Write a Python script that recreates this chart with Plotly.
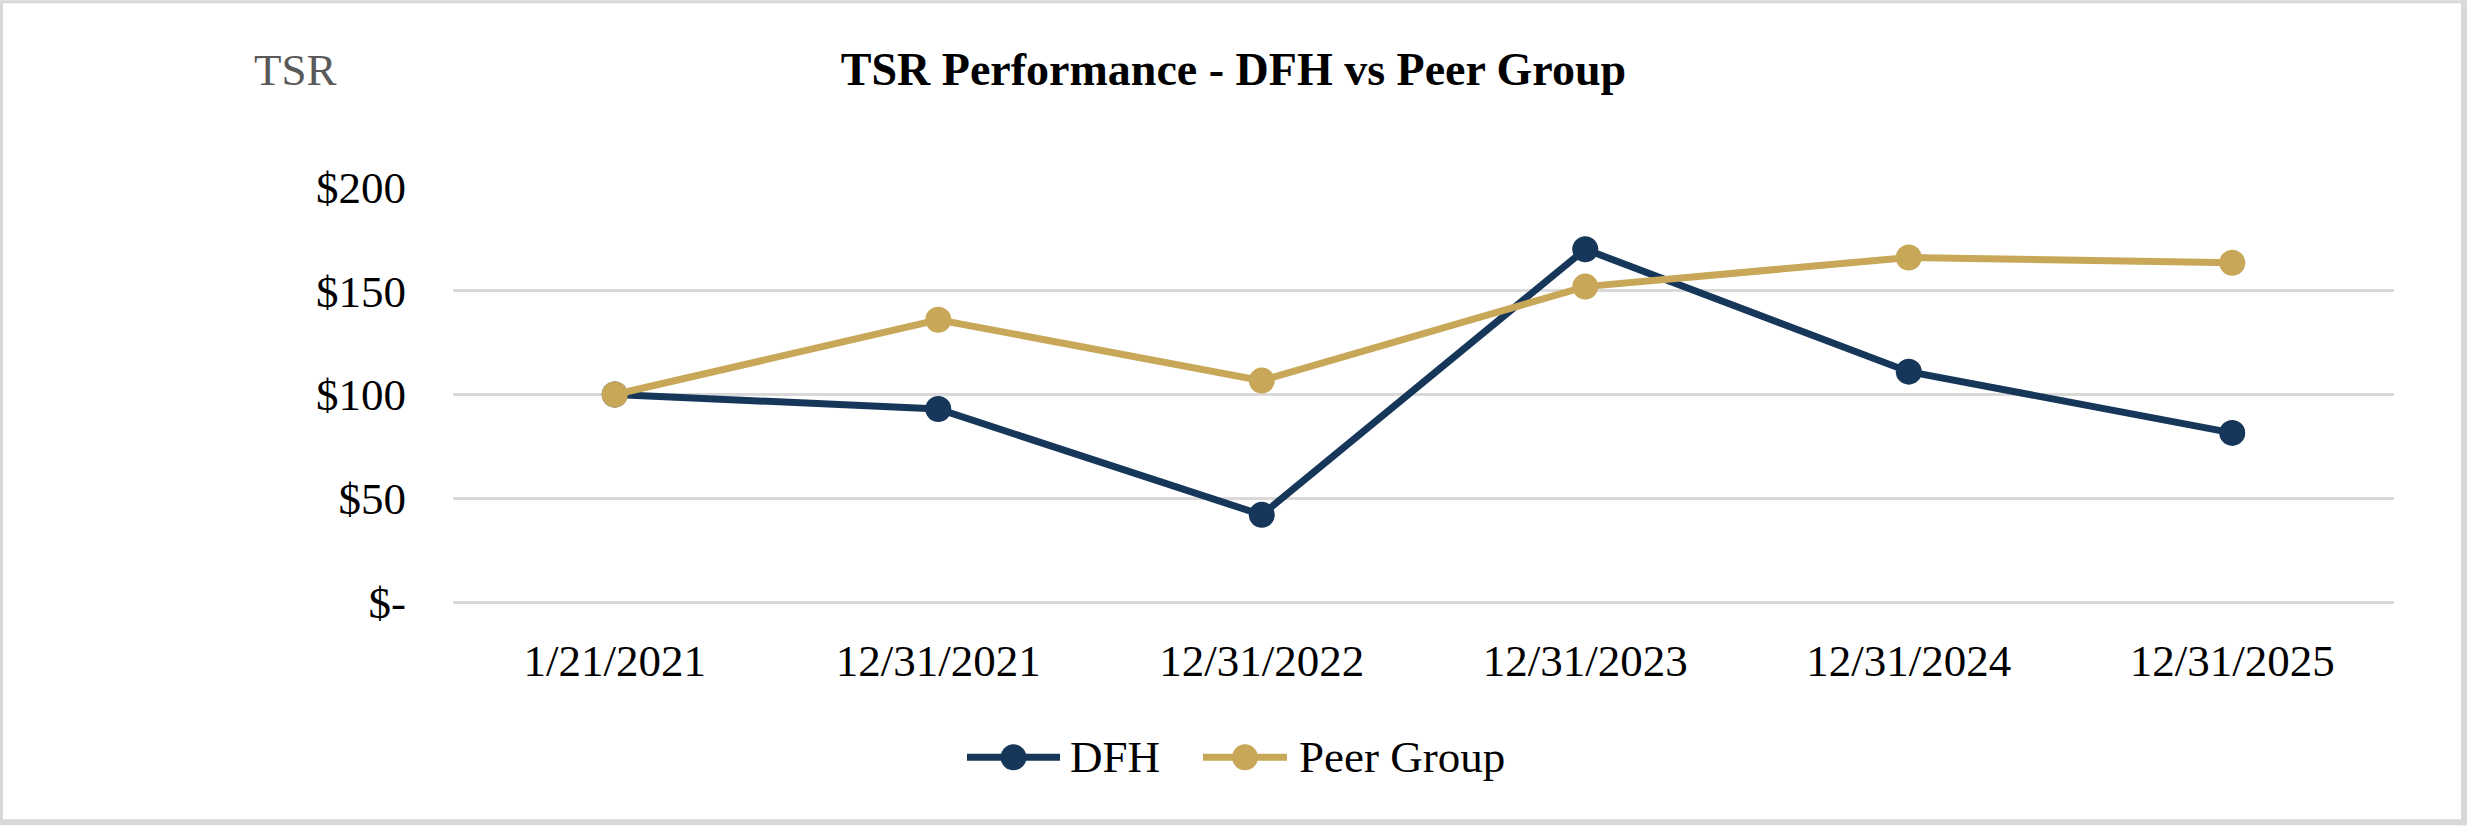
import plotly.graph_objects as go

# ---- data ----
categories = ["1/21/2021", "12/31/2021", "12/31/2022", "12/31/2023", "12/31/2024", "12/31/2025"]
dfh_values = [100, 93, 42, 170, 111, 81.5]
peer_values = [100, 136, 106.7, 152, 166, 163.5]
y_tick_values = [0, 50, 100, 150, 200]
y_tick_labels = ["$-", "$50", "$100", "$150", "$200"]
series_names = ["DFH", "Peer Group"]

# ---- layout geometry (pixels) ----
W, H = 2467, 826
L, R, T, B = 453, 2467 - 2394, 187, 826 - 602.5
PW, PH = W - L - R, H - T - B

def px_x(x):
    return (x - L) / PW

def px_y(y):
    return (H - B - y) / PH

FONT = "Liberation Serif"
NAVY = "#16375A"
GOLD = "#C8A858"
GRID = "#D9D9D9"
colors = [NAVY, GOLD]
LINE_W = 7
MARKER = 26

fig = go.Figure()
for name, vals, col in zip(series_names, [dfh_values, peer_values], colors):
    fig.add_trace(go.Scatter(
        x=categories, y=vals, name=name, mode="lines+markers",
        line=dict(color=col, width=LINE_W), marker=dict(color=col, size=MARKER),
        showlegend=False,
    ))

fig.update_layout(
    width=W, height=H,
    margin=dict(l=L, r=R, t=T, b=B, autoexpand=False),
    paper_bgcolor="white", plot_bgcolor="white",
    font=dict(family=FONT, size=45, color="black"),
    title=dict(
        text="<b>TSR Performance - DFH vs Peer Group</b>",
        x=0.5, xref="container", xanchor="center",
        y=1 - 69 / H, yref="container", yanchor="middle",
        font=dict(family=FONT, size=46, color="black"),
    ),
    xaxis=dict(
        type="category", range=[-0.5, 5.5],
        showgrid=False, zeroline=False, showline=False, ticks="",
        tickfont=dict(family=FONT, size=45, color="black"),
        ticklabelstandoff=28,
    ),
    yaxis=dict(
        range=[0, 200], tickvals=y_tick_values, ticktext=y_tick_labels,
        showgrid=True, gridcolor=GRID, gridwidth=3,
        zeroline=True, zerolinecolor=GRID, zerolinewidth=3,
        showline=False, ticks="",
        tickfont=dict(family=FONT, size=45, color="black"),
        ticklabelstandoff=46,
    ),
    showlegend=False,
)

fig.add_annotation(
    text="TSR", xref="paper", yref="paper",
    x=px_x(252), y=px_y(70), xanchor="left", yanchor="middle",
    showarrow=False, font=dict(family=FONT, size=45, color="#595959"),
)

# ---- custom legend (long line symbols like the original) ----
legend_y = 758
legend_items = [  # (line start, line end, text start) in px
    (967, 1060, 1068),
    (1203, 1287, 1297),
]
for (x0, x1, xt), name, col in zip(legend_items, series_names, colors):
    fig.add_shape(type="line", xref="paper", yref="paper",
                  x0=px_x(x0), x1=px_x(x1), y0=px_y(legend_y), y1=px_y(legend_y),
                  line=dict(color=col, width=LINE_W))
    cx = (x0 + x1) / 2
    r = MARKER / 2
    fig.add_shape(type="circle", xref="paper", yref="paper",
                  x0=px_x(cx - r), x1=px_x(cx + r),
                  y0=px_y(legend_y + r), y1=px_y(legend_y - r),
                  line=dict(width=0), fillcolor=col)
    fig.add_annotation(text=name, xref="paper", yref="paper",
                       x=px_x(xt), y=px_y(legend_y), xanchor="left", yanchor="middle",
                       showarrow=False, font=dict(family=FONT, size=45, color="black"))

# chart border
fig.add_shape(type="rect", xref="paper", yref="paper",
              x0=px_x(1.5), x1=px_x(W - 3), y0=px_y(H - 3), y1=px_y(1.5),
              line=dict(color=GRID, width=3), layer="below")
fig.add_shape(type="rect", xref="paper", yref="paper",
              x0=px_x(W - 6), x1=px_x(W), y0=px_y(H), y1=px_y(0),
              line=dict(width=0), fillcolor=GRID, layer="below")
fig.add_shape(type="rect", xref="paper", yref="paper",
              x0=px_x(0), x1=px_x(W), y0=px_y(H), y1=px_y(H - 6),
              line=dict(width=0), fillcolor=GRID, layer="below")

fig.write_html("out.html", config={"displayModeBar": False},
               post_script="document.body.style.margin='0px';")
